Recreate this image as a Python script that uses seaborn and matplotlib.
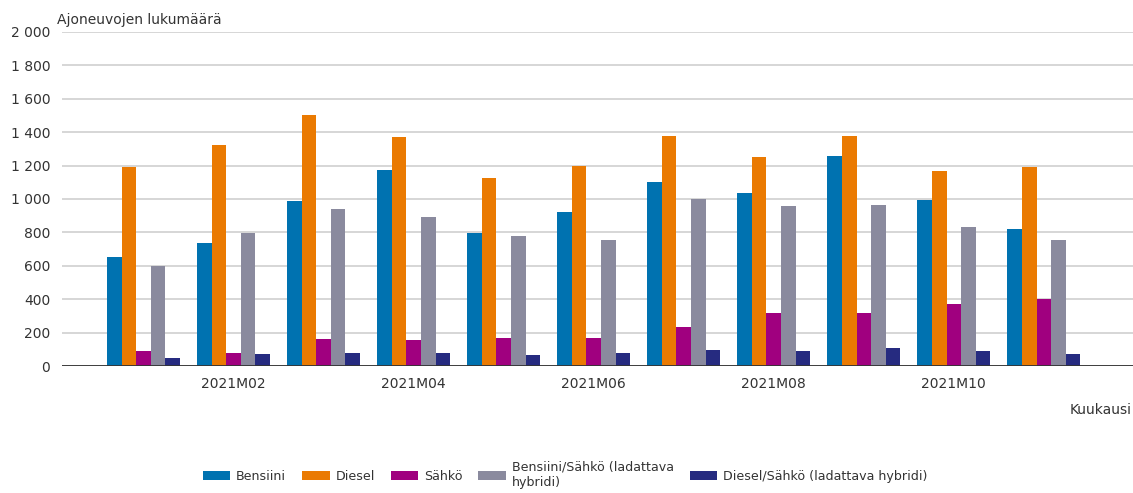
import matplotlib
matplotlib.use("Agg")
import matplotlib.pyplot as plt
import matplotlib.ticker as mticker
from matplotlib.patches import Patch
import seaborn as sns
import pandas as pd

months = ["2021M01", "2021M02", "2021M03", "2021M04", "2021M05", "2021M06",
          "2021M07", "2021M08", "2021M09", "2021M10", "2021M11"]

bensiini = [655, 735, 990, 1175, 795, 920, 1100, 1035, 1260, 995, 820]
diesel = [1190, 1325, 1505, 1370, 1125, 1200, 1375, 1250, 1375, 1165, 1190]
sahko = [90, 80, 162, 155, 165, 165, 235, 318, 318, 372, 402]
bensiini_sahko = [597, 795, 940, 890, 778, 755, 1000, 960, 965, 830, 755]
diesel_sahko = [48, 72, 78, 78, 65, 80, 98, 90, 105, 90, 72]

series_names = ["Bensiini", "Diesel", "Sähkö",
                "Bensiini/Sähkö (ladattava hybridi)",
                "Diesel/Sähkö (ladattava hybridi)"]
legend_labels = ["Bensiini", "Diesel", "Sähkö",
                 "Bensiini/Sähkö (ladattava\nhybridi)",
                 "Diesel/Sähkö (ladattava hybridi)"]
colors = ["#0072B0", "#EA7A02", "#A0007F", "#8A8A9E", "#262B80"]

y_ticks = [0, 200, 400, 600, 800, 1000, 1200, 1400, 1600, 1800, 2000]
x_tick_labels = ["2021M02", "2021M04", "2021M06", "2021M08", "2021M10"]

values = [bensiini, diesel, sahko, bensiini_sahko, diesel_sahko]
rows = []
for name, vals in zip(series_names, values):
    for m, v in zip(months, vals):
        rows.append({"Kuukausi": m, "Käyttövoima": name, "Määrä": v})
df = pd.DataFrame(rows)

sns.set_theme(style="white")
plt.rcParams["font.family"] = ["DejaVu Sans"]

TEXT = "#333333"
FS = 10

fig = plt.figure(figsize=(11.33, 4.93), dpi=100)
ax = fig.add_axes([0.0547, 0.2576, 0.9453, 0.6775])

sns.barplot(data=df, x="Kuukausi", y="Määrä", hue="Käyttövoima",
            order=months, hue_order=series_names,
            palette=colors, width=0.81, gap=0, linewidth=0,
            saturation=1, errorbar=None, legend=False, ax=ax)

ax.set_xlim(-0.906, 10.99)
ax.set_ylim(0, 2000)
ax.set_yticks(y_ticks)
ax.yaxis.set_major_formatter(
    mticker.FuncFormatter(lambda v, _: f"{int(v):,}".replace(",", " ")))
ax.yaxis.grid(True, color="#d6d6d6", linewidth=1.4)
ax.set_axisbelow(True)
ax.axhline(0, color="#333333", linewidth=1.3, zorder=5)

tick_pos = [months.index(t) for t in x_tick_labels]
ax.set_xticks(tick_pos)
ax.set_xticklabels(x_tick_labels)

for s in ax.spines.values():
    s.set_visible(False)

ax.tick_params(axis="y", length=7, width=1.3, color="#d0d0d0",
               labelsize=FS, labelcolor=TEXT, pad=1.5)
ax.tick_params(axis="x", length=0, labelsize=FS, labelcolor=TEXT, pad=8)

ax.set_xlabel("")
ax.set_ylabel("")
fig.text(57 / 1133, 1 - 20 / 493, "Ajoneuvojen lukumäärä", ha="left",
         va="center", fontsize=FS, color=TEXT)
fig.text(1132 / 1133, 1 - 410 / 493, "Kuukausi", ha="right", va="center",
         fontsize=FS, color=TEXT)

handles = [Patch(facecolor=c, edgecolor="none") for c in colors]
fig.legend(handles, legend_labels, loc="center", ncol=5,
           bbox_to_anchor=(565 / 1133, 1 - 475 / 493), frameon=False,
           fontsize=9.1, handlelength=2.2, handleheight=0.8,
           handletextpad=0.45, columnspacing=1.25, labelcolor=TEXT,
           borderpad=0, labelspacing=0.1)

fig.savefig("out.png", dpi=100)
